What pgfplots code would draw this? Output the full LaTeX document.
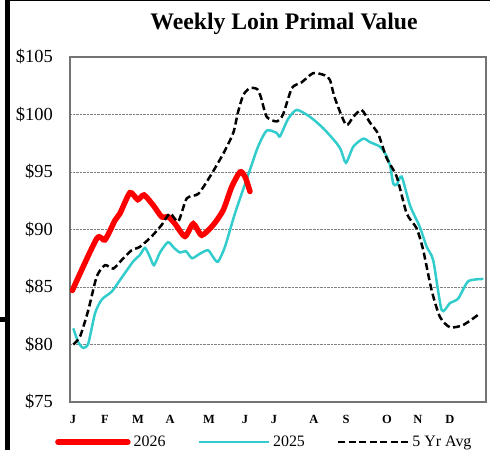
\documentclass[border=0pt]{standalone}
\usepackage{fontspec}
\setmainfont{Liberation Serif}
\usepackage{pgfplots}
\pgfplotsset{compat=1.18}
\definecolor{c25}{RGB}{51,204,204}
\begin{document}
\begin{tikzpicture}
\useasboundingbox (0,0) rectangle (490bp,450bp);
\fill[black] (5bp,0) rectangle (10bp,450bp);
\fill[black] (0,128bp) rectangle (10bp,133bp);
\fill[black] (5bp,448.5bp) rectangle (490bp,450bp);
\node[anchor=base, font=\fontsize{23.8}{26}\selectfont\bfseries] at (284bp,420bp) {Weekly Loin Primal Value};
\begin{axis}[
 scale only axis, width=416bp, height=345bp,
 at={(70bp,48bp)}, anchor=south west,
 xmin=0.75, xmax=52.5, ymin=75, ymax=105,
 ytick={75,80,...,105}, yticklabels={\$75,\$80,\$85,\$90,\$95,\$100,\$105},
 xtick={1.12,5.1,9.21,13.19,18.04,22.52,26.12,31.1,35.08,40.18,44.03,48.01},
 xticklabels={J,F,M,A,M,J,J,A,S,O,N,D},
 major tick length=0pt,
 ymajorgrids, grid style={densely dotted, gray, line width=0.6bp},
 axis line style={black!55, line width=1.6bp},
 yticklabel style={font=\fontsize{18.5}{20}\selectfont, inner sep=0pt, xshift=-17bp},
 xticklabel style={font=\fontsize{12.5}{14}\selectfont\bfseries, inner sep=0pt, yshift=-12.7bp},
 legend columns=3,
 legend style={draw=none, fill=none, at={(-0.0361,-0.116)}, anchor=west, inner sep=0pt,
   font=\fontsize{16}{18}\selectfont, nodes={inner sep=3bp},
   /tikz/every even column/.append style={column sep=29bp}},
 legend cell align=left,
 legend image code/.code={\draw[#1] (0bp,0bp) -- (70bp,0bp);},
]
\addlegendimage{red, line width=5.5bp, line cap=round}
\addlegendentry{2026}
\addlegendimage{c25, line width=2.5bp}
\addlegendentry{2025}
\addlegendimage{black, line width=2.5bp, dash pattern=on 7bp off 3.5bp}
\addlegendentry{5 Yr Avg}

\addplot[forget plot, c25, line width=2.5bp, smooth, tension=0.4] coordinates {
(1.16,81.4) (1.78,80.2) (2.41,79.7) (3.03,80.1) (3.86,82.7) (4.69,83.9) (5.94,84.6)
(6.97,85.6) (8.59,87.2) (9.46,87.8) (10.08,88.4) (10.70,87.6) (11.20,86.9) (11.95,88.0)
(12.94,88.9) (13.69,88.4) (14.43,88.0) (15.18,88.1) (15.93,87.5) (16.92,87.9) (17.92,88.2)
(18.55,87.6) (19.16,87.2) (20.03,88.5) (21.27,91.4) (23.14,95.2) (24.14,97.2) (25.22,98.6)
(26.46,98.4) (26.87,98.1) (27.87,99.6) (28.95,100.4) (30.60,99.8) (32.26,98.8) (33.92,97.5)
(34.46,96.9) (35.08,95.8) (35.99,97.2) (37.23,97.9) (38.06,97.6) (39.31,97.2) (40.05,96.5)
(40.55,95.6) (40.96,94.0) (41.39,93.9) (42.01,94.6) (43.04,92.1) (44.28,90.2) (45.12,88.5)
(45.94,87.3) (46.98,83.0) (48.01,83.6) (49.05,84.0) (50.29,85.5) (52.16,85.7)
};
\addplot[forget plot, red, line width=5.5bp, line cap=round, smooth, tension=0.4] coordinates {
(1.04,84.7) (4.07,89.2) (5.10,89.1) (6.35,90.8) (6.97,91.4) (8.21,93.2) (9.17,92.6)
(9.96,93.0) (11.11,92.1) (12.16,91.1) (12.98,91.1) (13.81,90.5) (15.05,89.4) (16.09,90.5)
(17.13,89.5) (18.57,90.4) (19.82,91.7) (20.86,93.7) (21.90,95.0) (22.52,94.6) (23.14,93.3)
};
\addplot[forget plot, black, line width=2.5bp, dash pattern=on 7bp off 3.5bp, smooth, tension=0.4] coordinates {
(1.16,80.0) (2.0,80.7) (3.03,83.0) (4.07,85.9) (5.10,86.9) (6.14,86.6) (7.38,87.5)
(8.43,88.2) (9.46,88.5) (10.91,89.4) (12.16,90.4) (13.19,91.4) (14.22,90.7) (15.27,92.7)
(16.71,93.1) (18.16,94.6) (19.82,96.6) (21.06,98.4) (21.65,100.2) (22.31,101.7) (23.14,102.3)
(24.05,102.2) (24.5,101.5) (25.22,99.8) (26.46,99.4) (27.25,100.0) (28.36,102.3) (29.57,102.8)
(31.01,103.6) (32.47,103.4) (33.09,103.0) (33.71,101.4) (35.08,99.1) (35.99,99.8) (37.03,100.4)
(38.06,99.3) (39.10,98.3) (40.14,96.2) (41.39,94.6) (42.63,91.4) (43.87,90.1) (44.69,88.2)
(45.74,84.7) (46.77,82.4) (48.01,81.5) (49.67,81.7) (51.75,82.7)
};
\end{axis}
\end{tikzpicture}
\end{document}
